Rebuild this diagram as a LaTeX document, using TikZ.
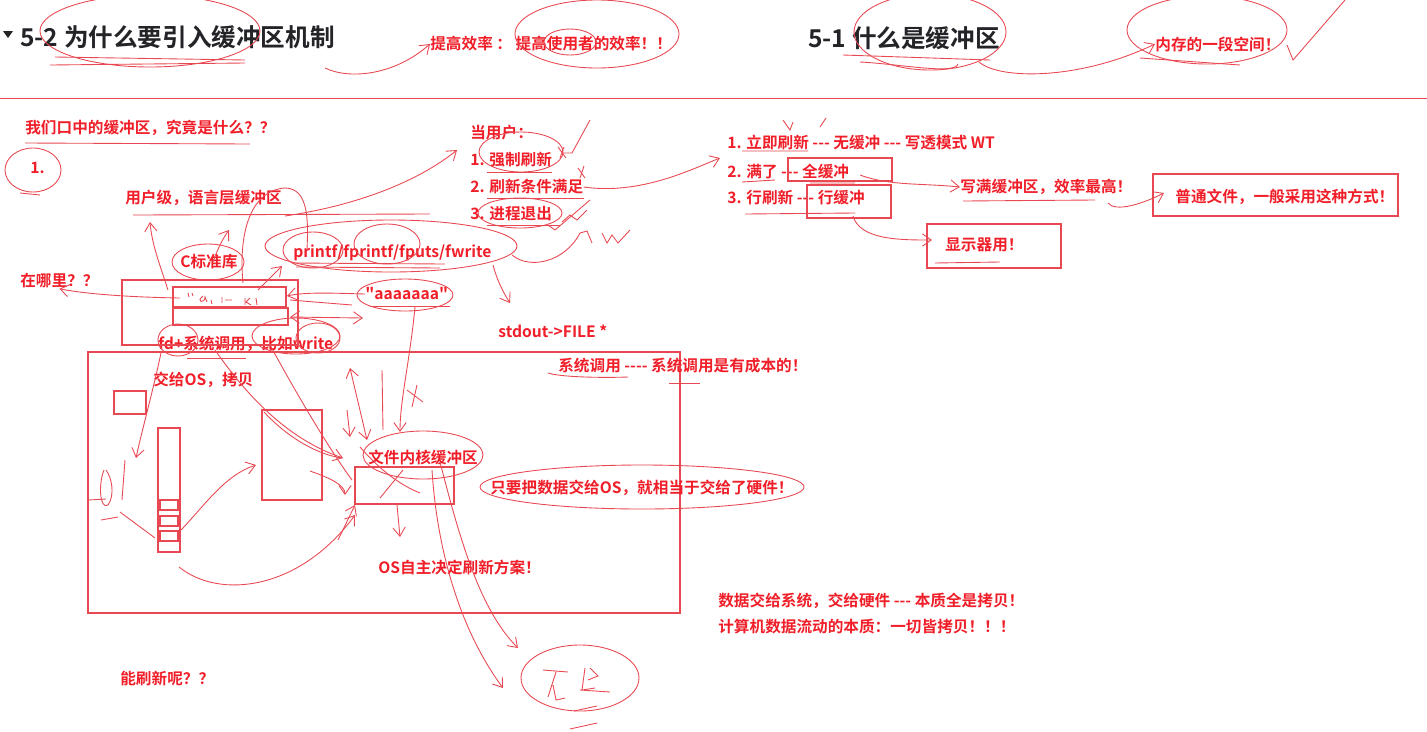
\documentclass[tikz,border=0pt]{standalone}
\usepackage{fontspec}
\setmainfont{Noto Sans CJK SC}[Ligatures=TeXOff, BoldFont={Noto Sans CJK SC Bold}]
\usetikzlibrary{arrows.meta, positioning}
\definecolor{notered}{RGB}{240,30,40}
\definecolor{penred}{RGB}{232,72,82}
\definecolor{headgray}{RGB}{35,35,40}

\begin{document}
\begin{tikzpicture}[x=0.02cm, y=-0.02cm,
  note/.style={anchor=west, inner sep=0pt, text=notered, font=\bfseries\fontsize{8.9}{10}\selectfont},
  head/.style={anchor=west, inner sep=0pt, text=headgray, font=\bfseries\fontsize{14}{16}\selectfont},
  pen/.style={draw=penred, line width=0.5pt},
  penarrow/.style={pen, -{Straight Barb[length=5pt, width=7pt]}},
  box/.style={draw=penred, line width=0.6pt}]
  \useasboundingbox (0,0) rectangle (1427,731);

  % headings
  \fill[headgray] (3,31) -- (13,31) -- (8,38) -- cycle;
  \node[head] (t52) at (20,37) {5-2 为什么要引入缓冲区机制};
  \node[head] (t51) at (808,38) {5-1 什么是缓冲区};
  \node[note] (eff) at (430,44) {提高效率 ： 提高使用者的效率！！};
  \node[note] (mem) at (1155,44) {内存的一段空间！};
  \draw[pen] (0,98) -- (1427,98);

  \draw[pen] (150,31) ellipse [x radius=110, y radius=36];
  \draw[pen] (55,57) -- (245,60);
  \draw[pen] (50,65) -- (245,63);
  \draw[penarrow] (325,68) .. controls (350,80) and (395,75) .. (eff.west);
  \draw[pen] (597,34) ellipse [x radius=82, y radius=34];
  \draw[pen] (570,42) ellipse [x radius=26, y radius=13];
  \draw[pen] (930,32) ellipse [x radius=76, y radius=38];
  \draw[pen] (843,55) -- (990,60);
  \draw[pen] (860,62) .. controls (900,64) and (955,75) .. (958,64);
  \draw[penarrow] (979,62) .. controls (1000,80) and (1080,80) .. (mem.west);
  \draw[pen] (1207,30) ellipse [x radius=80, y radius=34];
  \draw[pen] (1140,58) -- (1240,65);
  \draw[pen] (1287,45) -- (1293,60) -- (1345,0);

  % user level buffer
  \node[note] (q1) at (25,128) {我们口中的缓冲区，究竟是什么？？};
  \draw[pen] (25,143) -- (250,144);
  \node[note] (n1) at (30,168) {1.};
  \draw[pen] (33,170) ellipse [x radius=28, y radius=22];
  \draw[pen] (20,193) -- (40,195);
  \node[note] (ulevel) at (125,198) {用户级，语言层缓冲区};
  \draw[pen] (133,215) -- (430,214);
  \node[note] (clib) at (180,262) {C标准库};
  \draw[pen] (208,262) ellipse [x radius=36, y radius=18];
  \node[note] (pf) at (293,253) {printf/fprintf/fputs/fwrite};
  \draw[pen] (391,246) ellipse [x radius=126, y radius=26];
  \draw[pen] (313,250) ellipse [x radius=30, y radius=18];
  \draw[pen] (387,244) ellipse [x radius=33, y radius=20];
  \draw[pen] (292,263) -- (445,264);
  \draw[pen] (296,267) -- (440,268);
  \node[note] (where) at (20,281) {在哪里？？};
  \node[note] (aaa) at (365,294) {"aaaaaaa"};
  \draw[pen] (405,295) ellipse [x radius=48, y radius=16];
  \draw[pen] (370,306) -- (450,306);
  \node[note] (fdsys) at (158,344) {fd+系统调用，比如write};
  \draw[pen] (178,340) ellipse [x radius=20, y radius=16];
  \draw[pen] (296,336) ellipse [x radius=44, y radius=18];
  \draw[pen] (318,338) ellipse [x radius=22, y radius=15];
  \node[note] (stdout) at (498,331) {stdout->FILE *};

  \draw[box] (122,280) rectangle (298,345);
  \draw[box] (173,287) rectangle (286,307);
  \draw[box] (173,308) rectangle (288,325);
  \draw[pen] (188,293) -- (189,297) (192,293) -- (193,296);
  \draw[pen] (203,296) .. controls (195,302) and (205,304) .. (205,297) -- (207,302);
  \draw[pen] (211,300) -- (212,304) (222,297) -- (222,303) (225,300) -- (232,300);
  \draw[pen] (245,298) -- (245,305) (250,298) -- (246,302) -- (251,305) (256,298) -- (257,305);

  \draw[penarrow] (180,298) .. controls (120,297) and (80,293) .. (where.south);
  \draw[penarrow] (168,290) .. controls (160,265) and (152,245) .. (150,222);
  \draw[penarrow] (213,262) .. controls (218,248) and (222,240) .. (229,230);
  \draw[pen] (243,283) .. controls (238,230) and (252,190) .. (285,188)
    .. controls (310,188) and (308,225) .. (307,250);
  \draw[penarrow] (285,216) .. controls (360,205) and (420,180) .. (457,150);
  \draw[penarrow] (258,290) -- (282,266);
  \draw[penarrow] (493,265) .. controls (497,280) and (503,292) .. (510,303);
  \draw[pen] (512,255) .. controls (530,270) and (565,262) .. (580,233) -- (587,231) -- (592,243);
  \draw[pen] (602,233) -- (607,243) -- (612,235) -- (618,243) -- (630,230);
  \draw[penarrow] (aaa.west) .. controls (330,293) and (305,292) .. (287,296);
  \draw[pen] (352,305) -- (290,300);
  \draw[pen, {Straight Barb[length=5pt, width=7pt]}-{Straight Barb[length=5pt, width=7pt]}] (290,317) -- (363,318);

  % user flush conditions
  \node[note] (u0) at (470,133) {当用户：};
  \node[note] (u1) at (470,160) {1. 强制刷新};
  \node[note] (u2) at (470,187) {2. 刷新条件满足};
  \node[note] (u3) at (470,214) {3. 进程退出};
  \draw[pen] (521,152) ellipse [x radius=42, y radius=20];
  \draw[pen] (520,213) ellipse [x radius=42, y radius=15];
  \draw[pen] (487,172) -- (552,172) (487,198) -- (584,198) (487,225) -- (560,225);
  \draw[pen] (562,153) -- (572,153) -- (590,120);
  \draw[pen] (558,147) -- (566,158) (564,147) -- (560,158);
  \draw[pen] (578,168) -- (585,178) (584,166) -- (580,178);
  \draw[pen] (548,225) -- (555,230) -- (590,200);
  \draw[pen] (562,222) -- (570,215) -- (577,220) -- (587,210);
  \draw[penarrow] (u2.east) .. controls (640,195) and (690,170) .. (720,158);

  % flush strategies
  \node[note] (m1) at (727,143) {1. 立即刷新 --- 无缓冲 --- 写透模式 WT};
  \node[note] (m2) at (727,171) {2. 满了 --- 全缓冲};
  \node[note] (m3) at (727,198) {3. 行刷新 --- 行缓冲};
  \draw[box] (788,158) rectangle (892,181);
  \draw[box] (807,185) rectangle (891,218);
  \node[note] (full) at (960,187) {写满缓冲区，效率最高！};
  \node[note] (plain) at (1175,197) {普通文件，一般采用这种方式！};
  \draw[box] (1153,174) rectangle (1398,216);
  \node[note] (disp) at (945,245) {显示器用！};
  \draw[box] (927,224) rectangle (1061,268);
  \draw[penarrow] (860,175) .. controls (890,186) and (920,183) .. (full.west);
  \draw[penarrow] (1108,203) .. controls (1115,212) and (1140,205) .. (1164,193);
  \draw[penarrow] (853,216) .. controls (860,240) and (900,240) .. (932,240);
  \draw[pen] (742,151) -- (808,151) (742,182) -- (775,180) (810,183) -- (855,183);
  \draw[pen] (745,214) -- (855,213) (963,201) -- (1095,200) (935,263) -- (1000,262);
  \draw[pen] (783,120) -- (790,130) -- (793,122) (820,127) -- (826,118);

  % kernel side
  \draw[box] (88,352) rectangle (680,613);
  \node[note] (syscall) at (558,366) {系统调用 ---- 系统调用是有成本的！};
  \draw[pen] (548,373) .. controls (560,377) and (600,378) .. (628,377);
  \draw[pen] (669,383) -- (700,383);
  \node[note] (toos) at (153,380) {交给OS，拷贝};
  \draw[pen] (187,358) -- (246,358);
  \draw[box] (114,391) rectangle (146,414);
  \draw[box] (158,428) rectangle (180,552);
  \foreach \yy in {500,516,531}
    \draw[box] (160,\yy) rectangle (178,\yy+10);
  \draw[box] (262,410) rectangle (322,500);
  \node[note] (kbuf) at (368,457) {文件内核缓冲区};
  \draw[pen] (423,455) ellipse [x radius=60, y radius=24];
  \draw[box] (355,467) rectangle (454,504);
  \node[note] (hw) at (490,488) {只要把数据交给OS，就相当于交给了硬件！};
  \draw[pen] (642,487) ellipse [x radius=162, y radius=22];
  \node[note] (osdec) at (378,567) {OS自主决定刷新方案！};
  \node[note] (copy1) at (718,601) {数据交给系统，交给硬件 --- 本质全是拷贝！};
  \node[note] (copy2) at (718,627) {计算机数据流动的本质：一切皆拷贝！！！};
  \node[note] (flush) at (120,678) {能刷新呢？？};

  \draw[penarrow] (161,353) .. controls (152,395) and (142,430) .. (136,458);
  \draw[pen] (104,470) .. controls (98,485) and (100,510) .. (108,505)
    .. controls (115,495) and (112,478) .. (106,470);
  \draw[pen] (125,460) -- (122,500) (88,500) -- (106,499) (101,520) -- (118,517) (120,512) -- (155,538);
  \draw[penarrow] (181,530) .. controls (205,505) and (225,475) .. (256,465);
  \draw[penarrow] (179,567) .. controls (220,600) and (300,590) .. (355,515);
  \draw[penarrow] (215,350) .. controls (250,400) and (290,440) .. (343,458);
  \draw[pen] (270,345) .. controls (300,400) and (330,450) .. (352,480);
  \draw[pen] (264,412) .. controls (290,440) and (320,455) .. (342,458);
  \draw[penarrow] (310,471) .. controls (330,478) and (345,485) .. (345,495);
  \draw[penarrow] (338,540) -- (355,505);
  \draw[penarrow] (415,307) .. controls (410,360) and (400,400) .. (400,432);
  \draw[pen] (382,370) -- (383,430);
  \draw[pen, {Straight Barb[length=5pt, width=7pt]}-{Straight Barb[length=5pt, width=7pt]}] (350,368) -- (367,440);
  \draw[penarrow] (347,410) -- (350,437);
  \draw[pen] (407,390) -- (423,402) (417,385) -- (412,407);
  \draw[pen] (360,447) .. controls (380,470) and (400,485) .. (420,493);
  \draw[pen] (380,498) -- (403,470);
  \draw[penarrow] (397,505) -- (400,537);
  \draw[penarrow] (432,470) .. controls (437,550) and (460,630) .. (503,688);
  \draw[penarrow] (440,462) .. controls (460,540) and (480,610) .. (518,648);

  % disk
  \draw[pen] (580,678) ellipse [x radius=59, y radius=33];
  \draw[pen] (543,670) -- (568,672) (556,672) -- (548,697) (553,685) -- (556,700) -- (565,698);
  \draw[pen] (585,668) -- (582,690) -- (595,688) (590,668) -- (598,676) -- (588,680) (580,690) -- (610,692);
  \draw[pen] (574,711) -- (597,706) (570,729) -- (597,723);
\end{tikzpicture}
\end{document}
